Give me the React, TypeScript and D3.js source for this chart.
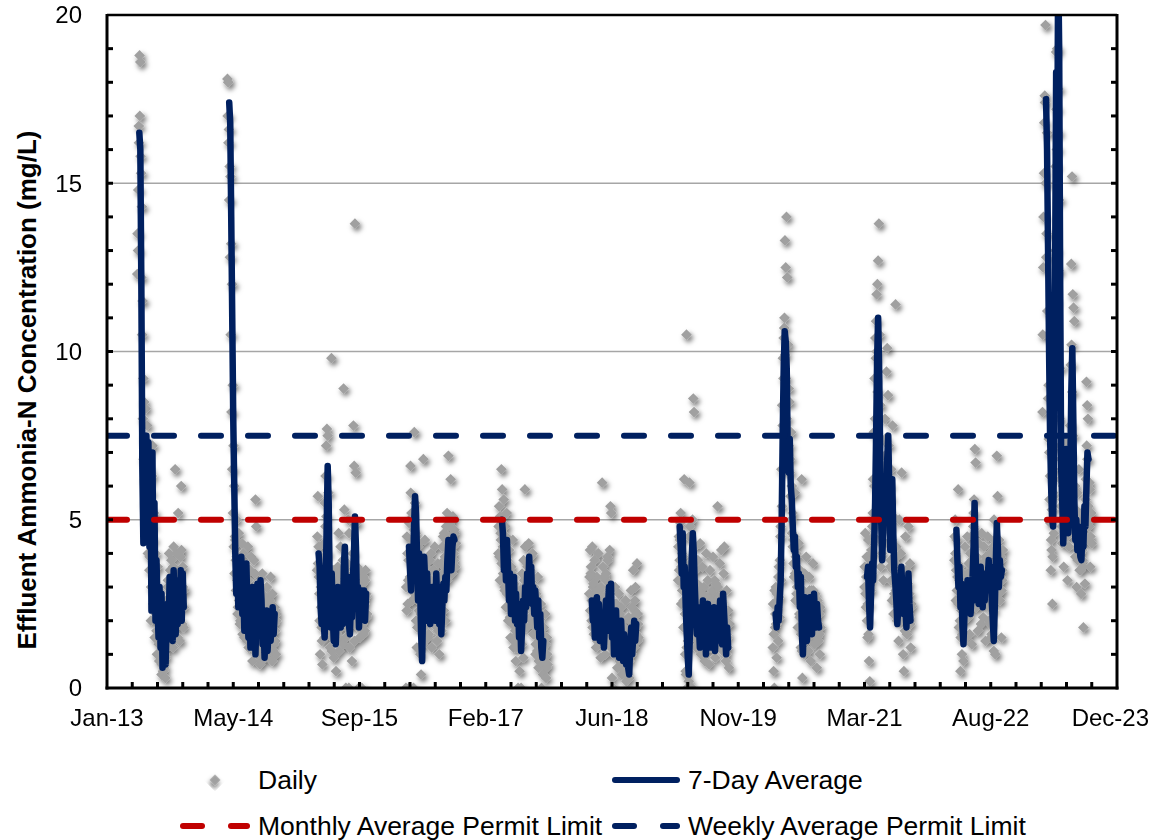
import React, { useEffect, useRef } from 'react';
import * as d3 from 'd3';

// Date axis: day offsets counted from 1 Jan 2013, major unit 500 days, minor 100 days
const axisStart = Date.UTC(2013, 0, 1);
const axisEndDay = 4000;
const xTickDays = [0, 500, 1000, 1500, 2000, 2500, 3000, 3500, 4000];
const xTickLabels = ['Jan-13', 'May-14', 'Sep-15', 'Feb-17', 'Jun-18', 'Nov-19', 'Mar-21', 'Aug-22', 'Dec-23'];
const yTickLabels = [0, 5, 10, 15, 20];

const monthlyLimit = 5;
const weeklyLimit = 7.5;

// first day of each season (offset from 1 Jan 2013); avg sampled every 4 days, daily every 3
// (two daily sets, one day apart)
const AVG_STEP = 4;
const DAILY_STEP = 3;
const avgStartDay = [128, 484, 838, 1196, 1564, 1920, 2268, 2648, 3010, 3364, 3719];
const dailyStartDay = [120, 477, 832, 1184, 1550, 1910, 2262, 2637, 3000, 3356, 3705];
const dailyBStartDay = [121, 478, 833, 1185, 1551, 1911, 2263, 2638, 3001, 3357, 3706];

const avg2013 = [16.5, 16.0, 12.0, 6.5, 4.3, 7.0, 4.5, 7.5, 5.0, 7.3, 4.2, 6.8, 2.3, 7.0, 3.0, 5.5, 2.0, 3.8, 2.5, 1.5, 3.0, 1.2, 2.8, 0.6, 1.0, 2.0, 0.7, 1.8, 2.5, 1.6, 3.3, 1.8, 2.4, 1.4, 3.5, 2.3, 1.6, 2.8, 1.9, 3.2, 2.2, 3.5, 2.0, 3.4, 2.4];
const avg2014 = [17.4, 16.8, 14.0, 11.0, 8.0, 6.0, 4.0, 2.8, 3.8, 2.4, 3.3, 2.5, 3.9, 2.2, 3.0, 1.7, 2.6, 3.7, 2.4, 1.5, 2.8, 1.2, 2.0, 3.0, 1.6, 2.4, 1.0, 2.1, 3.1, 2.5, 1.8, 3.2, 2.6, 1.3, 2.0, 0.9, 1.5, 2.3, 1.1, 1.8, 2.2, 1.4, 1.9, 2.4, 1.6, 2.2];
const avg2015 = [4.0, 3.6, 2.4, 1.9, 3.2, 2.0, 1.5, 3.0, 4.8, 6.6, 5.5, 3.0, 1.8, 3.4, 2.2, 1.4, 2.8, 1.3, 2.2, 3.0, 2.0, 2.9, 1.8, 2.6, 1.9, 3.6, 4.2, 3.0, 2.2, 3.3, 1.9, 1.6, 2.6, 2.1, 3.3, 4.0, 5.1, 4.2, 2.4, 3.0, 1.8, 2.7, 2.2, 2.9, 2.4, 2.9, 2.0, 2.8];
const avg2016 = [4.2, 3.5, 2.9, 4.0, 3.3, 4.8, 5.7, 5.2, 3.9, 2.6, 4.0, 3.0, 1.6, 0.8, 2.5, 3.9, 3.2, 2.0, 3.4, 2.2, 2.8, 1.9, 2.4, 3.0, 2.2, 2.7, 2.0, 3.4, 2.6, 3.0, 1.9, 2.5, 1.6, 2.4, 3.1, 2.6, 3.3, 2.9, 3.8, 4.4, 3.6, 4.0, 3.5, 4.2, 4.5, 4.4];
const avg2017 = [5.0, 4.6, 3.5, 4.2, 3.2, 4.4, 3.6, 2.6, 3.4, 2.2, 3.0, 2.5, 3.3, 2.0, 2.8, 1.9, 2.5, 1.5, 2.3, 1.1, 1.8, 2.6, 2.0, 3.0, 2.4, 3.4, 2.8, 3.9, 3.2, 3.6, 2.5, 3.0, 2.2, 2.9, 2.4, 1.8, 2.6, 1.5, 2.2, 1.2, 0.9, 1.4];
const avg2018 = [2.6, 2.0, 2.4, 1.5, 2.3, 2.7, 1.8, 2.5, 1.4, 2.1, 1.6, 2.2, 1.2, 1.9, 2.6, 1.7, 2.4, 3.0, 2.0, 3.1, 1.5, 2.2, 1.0, 1.6, 2.3, 1.2, 1.8, 0.9, 1.5, 2.0, 1.3, 0.8, 1.6, 1.1, 0.7, 1.4, 0.6, 0.4, 1.2, 1.8, 1.0, 1.5, 2.0, 1.4, 1.9];
const avg2019 = [4.8, 4.2, 3.4, 4.6, 3.0, 3.6, 2.4, 1.6, 0.9, 0.4, 1.5, 2.8, 3.9, 4.6, 4.0, 3.0, 2.2, 1.6, 2.4, 1.9, 1.2, 2.3, 1.7, 2.6, 1.4, 2.1, 1.0, 1.8, 2.5, 1.6, 2.3, 1.2, 2.0, 1.5, 2.4, 1.1, 1.9, 1.4, 2.2, 1.7, 2.6, 2.0, 1.3, 2.8, 2.2, 1.6, 1.0, 1.8, 1.2];
const avg2020 = [2.2, 1.8, 2.4, 2.0, 2.6, 3.2, 5.0, 7.5, 9.5, 10.6, 10.3, 9.5, 7.0, 6.4, 7.4, 6.0, 5.6, 4.8, 4.1, 4.5, 3.6, 3.9, 3.0, 3.4, 2.4, 3.3, 1.6, 1.0, 2.0, 2.7, 2.2, 1.4, 2.4, 1.8, 2.7, 2.0, 1.6, 2.5, 2.8, 2.2, 1.8, 2.5, 2.0, 1.8];
const avg2021 = [3.3, 3.6, 2.5, 1.8, 2.8, 3.7, 3.2, 4.2, 5.5, 7.5, 9.8, 11.0, 9.5, 7.0, 5.0, 3.8, 4.6, 5.8, 6.2, 5.0, 6.8, 7.5, 6.0, 4.1, 5.2, 6.2, 4.6, 3.5, 3.1, 2.6, 1.9, 2.4, 3.3, 2.8, 3.6, 2.9, 2.2, 3.0, 2.4, 1.8, 2.6, 3.4, 2.5, 2.0];
const avg2022 = [4.7, 3.8, 3.0, 3.6, 2.4, 3.1, 1.8, 1.3, 2.2, 3.0, 2.6, 3.2, 2.4, 2.9, 2.2, 2.8, 3.3, 4.2, 5.5, 4.0, 2.6, 3.2, 2.5, 3.0, 3.6, 2.8, 2.4, 3.1, 2.6, 3.4, 2.9, 3.3, 3.8, 3.2, 3.6, 2.6, 2.0, 1.4, 2.4, 3.7, 4.9, 4.2, 3.0, 3.8, 3.3, 3.5];
const avg2023 = [17.5, 16.0, 13.0, 10.0, 7.5, 6.0, 5.0, 4.8, 7.0, 12.5, 18.3, 15.0, 21.5, 19.0, 12.0, 6.5, 5.6, 4.3, 5.3, 6.2, 7.1, 5.5, 4.6, 5.2, 6.5, 8.8, 10.1, 8.0, 5.6, 4.4, 5.0, 4.1, 4.8, 4.3, 3.9, 3.8, 4.6, 4.2, 5.4, 4.8, 6.0, 7.0, 6.8];

const daily2013 = [12.3, 13.0, 16.7, 18.8, 18.6, 15.3, 14.3, 11.5, 9.2, 8.5, 6.2, 8.3, 5.0, 7.8, 4.0, 6.5, 3.5, 5.8, 2.0, 4.8, 7.2, 2.5, 5.2, 1.5, 4.0, 2.8, 1.0, 3.6, 2.2, 0.8, 2.6, 1.5, 0.4, 1.2, 0.5, 2.3, 1.0, 0.3, 2.0, 1.2, 3.0, 2.2, 4.0, 1.5, 2.8, 3.8, 2.0, 1.2, 4.2, 2.8, 6.5, 1.8, 3.5, 2.4, 5.2, 3.0, 1.4, 3.9, 6.0, 2.5, 3.6, 1.8, 2.9];
const daily2014 = [18.1, 18.0, 16.6, 15.5, 15.2, 13.2, 12.0, 9.0, 7.2, 6.0, 4.5, 3.8, 5.0, 3.2, 2.4, 4.6, 3.0, 2.0, 3.6, 2.8, 1.6, 4.0, 2.5, 3.4, 1.8, 3.2, 2.2, 4.2, 1.2, 2.6, 3.5, 1.4, 2.9, 0.8, 2.1, 3.8, 1.7, 5.6, 4.8, 1.0, 2.3, 3.1, 1.5, 0.7, 2.8, 1.9, 3.4, 1.2, 2.2, 0.9, 2.6, 1.6, 3.0, 1.1, 2.0, 2.7, 1.4, 3.3, 1.8, 0.8, 2.4, 1.3, 2.0, 1.7, 1.0, 2.2];
const daily2015 = [3.5, 5.7, 4.2, 2.8, 1.0, 3.0, 1.8, 0.7, 2.5, 3.9, 1.5, 4.8, 7.2, 7.7, 7.5, 5.8, 3.2, 1.2, 2.6, 9.8, 1.5, 3.5, 0.9, 2.0, 2.8, 0.5, 1.6, 3.4, 2.2, 1.1, 3.0, 4.2, 2.3, 1.4, 3.8, 8.9, 5.3, 2.6, 0.0, 3.1, 1.8, 2.5, 0.0, 1.2, 3.3, 2.0, 0.8, 4.0, 7.8, 6.6, 13.8, 6.4, 4.9, 3.6, 2.2, 0.0, 1.5, 3.0, 2.4, 0.0, 1.9, 3.3, 2.6, 1.7, 3.5, 2.8, 2.2];
const daily2016 = [0.0, 2.3, 4.0, 3.2, 0.0, 5.0, 6.6, 4.4, 2.6, 3.5, 0.0, 7.6, 5.5, 4.6, 3.0, 1.8, 4.2, 2.3, 3.4, 1.0, 0.4, 2.0, 1.3, 6.8, 3.6, 4.4, 2.5, 1.5, 3.8, 2.9, 1.6, 3.1, 2.2, 4.0, 1.2, 2.7, 3.5, 1.9, 4.2, 2.4, 3.0, 1.4, 3.7, 2.6, 1.0, 2.1, 3.3, 1.7, 2.8, 4.5, 2.3, 3.6, 2.0, 4.8, 3.2, 4.1, 6.9, 3.8, 5.0, 6.2, 4.3, 3.4, 5.1, 4.0, 4.7, 3.6, 4.3];
const daily2017 = [4.0, 5.4, 3.2, 4.6, 6.5, 5.9, 4.2, 5.6, 3.0, 4.8, 2.4, 5.2, 3.8, 2.0, 4.1, 3.0, 1.5, 3.6, 2.6, 4.4, 1.2, 3.1, 2.2, 0.8, 2.8, 1.6, 0.0, 2.4, 0.5, 1.9, 0.0, 1.3, 2.7, 0.9, 3.2, 5.9, 2.5, 1.8, 3.7, 2.9, 4.3, 3.4, 2.1, 3.9, 2.6, 4.0, 1.6, 3.0, 2.2, 1.0, 2.8, 1.7, 3.3, 0.6, 2.0, 1.3, 2.5, 0.0, 1.1, 0.4, 1.8, 0.9, 2.2, 0.3, 1.5, 0.7];
const daily2018 = [2.8, 4.1, 3.4, 2.0, 4.2, 3.0, 1.6, 3.8, 2.5, 1.2, 3.3, 2.2, 4.0, 1.8, 2.9, 0.9, 2.4, 6.1, 3.6, 1.5, 2.7, 1.0, 3.2, 2.0, 3.9, 1.4, 2.6, 4.1, 5.4, 5.2, 0.3, 2.2, 0.0, 1.7, 3.0, 1.1, 2.5, 0.6, 1.9, 2.8, 0.8, 1.5, 2.4, 0.4, 1.2, 2.0, 0.7, 1.6, 2.6, 0.2, 1.3, 0.9, 2.1, 0.3, 1.4, 2.9, 1.0, 1.8, 3.5, 1.2, 2.3, 3.0, 1.6, 3.7, 2.2, 1.5];
const daily2019 = [3.2, 4.5, 3.8, 4.9, 2.5, 4.0, 3.1, 1.8, 6.2, 2.2, 0.5, 10.5, 0.0, 1.4, 0.2, 6.1, 2.0, 3.3, 0.0, 5.0, 8.6, 8.2, 4.2, 3.5, 1.2, 2.7, 3.8, 1.6, 2.9, 4.3, 1.0, 2.5, 3.6, 1.9, 3.0, 0.8, 2.4, 4.0, 1.5, 3.2, 2.2, 0.7, 3.5, 2.0, 1.2, 2.8, 3.9, 1.7, 2.6, 0.9, 3.1, 2.3, 5.4, 1.4, 2.7, 3.7, 1.8, 4.1, 2.5, 1.1, 3.4, 4.2, 2.1, 0.8, 2.9, 1.5, 2.3, 0.6, 1.9];
const daily2020 = [1.2, 0.5, 0.0, 1.8, 3.0, 0.9, 2.6, 1.4, 3.6, 2.1, 4.5, 3.2, 5.4, 7.8, 9.2, 10.7, 13.3, 12.5, 14.0, 12.2, 10.2, 8.9, 8.5, 6.8, 7.6, 6.0, 5.2, 4.4, 3.3, 5.8, 2.6, 4.0, 3.0, 1.8, 4.3, 2.2, 3.5, 1.2, 6.2, 0.3, 2.4, 1.0, 3.4, 2.0, 3.9, 1.5, 2.8, 1.1, 3.3, 2.3, 0.8, 2.9, 1.7, 3.7, 2.4, 1.3, 2.8, 1.9, 0.6, 2.6, 1.4, 2.2, 1.0, 1.8];
const daily2021 = [3.0, 4.6, 2.4, 3.9, 1.5, 4.4, 0.8, 0.2, 2.9, 4.1, 3.4, 5.2, 4.5, 6.0, 8.0, 9.8, 11.7, 12.0, 12.7, 13.8, 10.5, 8.4, 6.3, 4.0, 5.5, 3.2, 6.6, 8.0, 4.8, 9.4, 10.1, 8.7, 7.2, 5.6, 3.6, 6.5, 4.4, 7.8, 5.1, 3.9, 2.7, 11.4, 4.2, 2.0, 3.1, 1.4, 5.0, 2.6, 4.0, 6.4, 3.3, 1.0, 0.5, 2.2, 4.5, 3.5, 1.6, 2.8, 4.8, 2.1, 3.7, 1.2, 2.5];
const daily2022 = [3.8, 5.0, 2.6, 4.4, 3.3, 5.9, 1.8, 3.6, 0.5, 2.5, 1.0, 3.4, 0.8, 2.0, 4.2, 1.5, 3.0, 4.5, 2.2, 3.7, 1.6, 4.0, 2.8, 1.3, 3.5, 4.8, 5.6, 7.1, 6.7, 2.4, 3.9, 1.7, 4.3, 2.7, 3.6, 1.9, 4.6, 3.2, 2.1, 4.2, 3.0, 1.4, 3.8, 2.5, 4.5, 3.4, 2.0, 4.0, 3.0, 1.6, 3.5, 2.3, 1.1, 2.8, 1.0, 4.3, 6.9, 5.7, 3.1, 4.4, 2.6, 3.9, 1.5, 3.2, 4.1];
const daily2023 = [8.2, 12.5, 15.3, 17.6, 19.7, 12.8, 16.5, 10.5, 9.0, 7.0, 6.3, 3.5, 4.1, 2.5, 5.8, 4.6, 7.2, 13.0, 18.9, 16.0, 20.5, 17.8, 14.5, 9.5, 6.8, 5.0, 4.3, 6.0, 3.6, 5.5, 7.3, 4.8, 6.4, 3.2, 5.0, 4.2, 6.9, 5.5, 12.6, 15.2, 11.7, 11.3, 10.9, 6.0, 4.7, 3.0, 5.8, 4.2, 6.5, 3.5, 4.9, 2.8, 5.2, 3.8, 1.8, 4.5, 3.1, 5.6, 9.1, 8.4, 8.0, 4.4, 6.1, 3.6, 5.0, 4.3];

const daily2013b = [13.5, 14.8, 16.2, 17.0, 15.8, 12.2, 10.5, 8.0, 6.8, 7.4, 5.5, 6.9, 4.6, 7.0, 5.2, 6.1, 3.9, 5.0, 3.0, 6.3, 4.4, 3.4, 2.6, 3.1, 2.2, 1.7, 3.0, 2.0, 1.3, 2.4, 1.0, 2.1, 0.7, 1.6, 1.1, 0.6, 1.5, 0.9, 2.6, 1.7, 3.2, 2.4, 1.3, 3.5, 2.0, 2.9, 1.6, 3.6, 2.5, 1.9, 3.1, 2.2, 4.0, 1.5, 2.7, 3.4, 2.0, 2.8, 4.1, 1.9, 3.0, 2.4];
const daily2014b = [17.0, 16.2, 14.5, 12.8, 10.5, 8.2, 6.5, 5.2, 4.2, 3.4, 4.4, 2.9, 3.9, 2.2, 3.3, 2.6, 1.9, 3.7, 2.7, 4.3, 2.0, 3.0, 1.5, 2.5, 3.6, 2.1, 1.4, 3.2, 2.4, 1.8, 2.9, 3.9, 2.3, 1.2, 2.7, 1.9, 3.4, 2.6, 1.1, 2.1, 2.9, 1.6, 2.4, 1.3, 2.0, 0.8, 1.7, 2.5, 1.2, 1.9, 2.7, 1.5, 1.0, 2.3, 1.8, 2.6, 1.3, 2.1, 1.6, 2.8, 1.1, 1.9, 2.4, 1.4, 2.0];
const daily2015b = [4.5, 3.7, 3.3, 2.0, 3.6, 2.4, 1.4, 3.0, 2.2, 4.3, 5.5, 6.3, 5.1, 4.0, 2.3, 3.3, 1.7, 2.8, 2.0, 1.1, 2.5, 3.1, 1.6, 2.4, 3.2, 1.9, 2.7, 3.6, 4.6, 3.4, 2.5, 1.8, 3.5, 2.9, 1.3, 2.2, 3.0, 2.6, 1.5, 2.8, 3.7, 5.0, 4.6, 3.3, 2.1, 2.9, 1.9, 3.2, 2.5, 1.4, 2.7, 3.4, 2.3, 3.0, 1.8, 2.6, 3.5, 2.0, 2.9, 2.4, 3.1, 1.6, 2.5, 3.2, 2.7, 2.1];
const daily2016b = [3.0, 4.5, 2.5, 3.8, 4.9, 3.3, 5.8, 5.2, 4.0, 3.1, 4.7, 2.8, 3.6, 2.0, 1.2, 3.3, 2.6, 4.3, 3.5, 2.2, 3.9, 2.5, 3.1, 1.8, 2.8, 3.6, 2.1, 3.3, 2.6, 1.5, 2.9, 3.8, 2.3, 3.2, 2.0, 2.7, 3.5, 1.9, 2.5, 3.1, 2.2, 2.9, 1.7, 2.4, 3.3, 2.6, 3.7, 2.9, 4.2, 3.4, 4.6, 3.9, 3.2, 4.4, 5.2, 3.7, 4.8, 4.0, 3.5, 4.5, 3.9, 5.0, 4.2, 3.8, 4.6];
const daily2017b = [4.8, 3.9, 5.1, 4.4, 3.7, 4.9, 3.4, 4.0, 2.9, 3.7, 4.5, 2.8, 3.5, 2.4, 3.2, 2.1, 2.7, 3.4, 1.9, 2.6, 1.4, 2.3, 1.7, 2.9, 1.2, 2.1, 1.5, 2.5, 1.8, 2.9, 2.2, 3.4, 2.6, 3.8, 3.0, 4.2, 3.3, 2.5, 3.6, 2.8, 3.2, 2.4, 3.5, 2.0, 2.7, 1.9, 2.5, 1.6, 2.3, 1.3, 2.0, 1.1, 1.7, 0.8, 1.4, 1.9, 1.0, 1.6, 0.7, 1.2, 1.5, 0.9, 1.3, 0.6, 1.0];
const daily2018b = [3.3, 2.3, 3.6, 2.6, 1.8, 3.1, 2.2, 2.8, 1.9, 2.5, 1.4, 2.9, 2.1, 1.6, 2.4, 3.0, 1.8, 2.7, 2.0, 3.3, 2.5, 1.9, 3.4, 2.6, 3.8, 2.2, 1.5, 2.6, 1.2, 2.0, 1.5, 2.4, 1.0, 1.8, 2.5, 1.3, 2.0, 1.6, 0.9, 1.7, 2.2, 1.1, 1.5, 0.6, 1.3, 1.8, 1.0, 0.7, 1.4, 0.5, 1.1, 1.7, 0.8, 1.3, 2.0, 1.4, 2.4, 1.6, 2.1, 1.2, 2.6, 1.8, 2.2, 1.4, 1.9];
const daily2019b = [4.2, 3.5, 4.4, 5.2, 3.6, 2.9, 3.9, 2.6, 1.8, 1.0, 0.4, 1.2, 2.4, 3.6, 4.5, 4.8, 3.7, 2.9, 2.3, 1.7, 2.9, 2.2, 1.5, 2.6, 1.9, 3.1, 2.4, 1.3, 2.2, 1.7, 2.8, 1.2, 2.0, 2.6, 1.6, 2.4, 1.1, 1.9, 2.7, 1.5, 2.3, 1.8, 2.6, 1.4, 2.1, 2.9, 1.9, 2.5, 3.2, 2.2, 1.6, 2.4, 3.0, 2.0, 1.3, 2.2, 1.7, 2.6, 1.2, 1.8, 2.3, 1.5, 2.0, 1.0, 1.6, 1.2];
const daily2020b = [2.5, 1.6, 2.9, 2.2, 1.9, 2.8, 2.4, 3.3, 2.7, 3.8, 4.8, 6.5, 8.4, 9.8, 10.4, 11.0, 9.9, 9.2, 8.0, 7.0, 6.5, 7.2, 6.4, 5.7, 5.0, 4.6, 4.2, 3.7, 4.5, 3.4, 3.9, 2.8, 3.5, 2.6, 3.2, 2.1, 2.9, 1.6, 1.1, 2.2, 2.9, 1.8, 2.5, 1.4, 2.7, 2.0, 2.4, 1.5, 2.9, 2.2, 1.7, 2.6, 2.0, 2.9, 2.3, 1.6, 2.5, 2.1, 1.5, 2.3, 1.9, 1.6, 2.4];
const daily2021b = [3.6, 2.8, 3.3, 2.0, 2.5, 1.6, 3.0, 3.8, 3.2, 4.0, 4.8, 6.2, 7.6, 9.2, 10.4, 10.9, 10.0, 8.8, 7.4, 5.8, 4.4, 3.6, 4.9, 5.6, 6.5, 5.2, 6.9, 7.4, 6.6, 5.3, 4.3, 5.7, 6.0, 4.8, 3.8, 3.2, 2.6, 3.5, 2.2, 2.8, 3.7, 2.9, 3.9, 3.1, 2.5, 3.3, 2.4, 2.0, 2.9, 3.5, 2.6, 3.0, 2.2, 1.7, 2.7, 3.4, 2.6, 3.1, 2.2, 2.8, 1.9, 2.4];
const daily2022b = [4.5, 4.0, 3.5, 2.9, 3.7, 2.5, 3.2, 2.0, 1.5, 2.3, 1.6, 2.8, 3.3, 2.5, 3.1, 2.3, 2.9, 3.4, 2.1, 2.7, 3.3, 2.4, 3.0, 3.8, 4.5, 5.2, 4.6, 3.5, 2.8, 3.4, 2.6, 3.1, 3.7, 2.9, 2.5, 3.3, 2.7, 3.6, 3.0, 3.4, 2.5, 3.9, 3.3, 3.7, 2.8, 3.5, 2.4, 1.9, 1.5, 2.5, 3.5, 4.2, 5.0, 4.4, 3.5, 3.0, 3.9, 3.4, 2.8, 3.6, 3.3, 3.8, 2.9, 3.5];
const daily2023b = [10.5, 14.0, 16.8, 17.4, 15.0, 13.5, 11.2, 8.6, 7.4, 5.6, 4.9, 4.4, 5.3, 3.9, 6.5, 9.0, 11.5, 15.5, 17.2, 19.0, 16.5, 12.4, 8.0, 6.2, 5.4, 4.8, 5.6, 6.6, 5.8, 7.0, 6.1, 5.2, 4.5, 5.0, 5.9, 6.6, 7.8, 9.6, 10.2, 8.8, 7.5, 5.3, 4.6, 3.9, 5.3, 4.6, 3.8, 4.3, 5.1, 4.0, 3.5, 4.7, 4.1, 3.6, 4.9, 4.4, 5.3, 6.2, 7.2, 6.8, 5.4, 4.8, 5.9, 4.5, 5.2];

const avgSeasons = [avg2013, avg2014, avg2015, avg2016, avg2017, avg2018, avg2019, avg2020, avg2021, avg2022, avg2023];
const dailySeasons = [daily2013, daily2014, daily2015, daily2016, daily2017, daily2018, daily2019, daily2020, daily2021, daily2022, daily2023];
const dailyBSeasons = [daily2013b, daily2014b, daily2015b, daily2016b, daily2017b, daily2018b, daily2019b, daily2020b, daily2021b, daily2022b, daily2023b];

const NAVY = '#002060';
const RED = '#c00000';
const GREY = '#a0a0a0';
const FONT = '"Liberation Sans", Arial, sans-serif';

const dayToDate = (d: number) => new Date(axisStart + d * 864e5);

const AmmoniaChart: React.FC = () => {
  const svgRef = useRef<SVGSVGElement>(null);

  useEffect(() => {
    if (!svgRef.current) return;

    const width = 1150;
    const height = 840;
    const left = 107, right = 1117, top = 15, bottom = 688;

    const svg = d3.select(svgRef.current);
    svg.selectAll('*').remove();
    svg.attr('width', width).attr('height', height);

    const defs = svg.append('defs');
    defs.append('clipPath').attr('id', 'plot-clip')
      .append('rect').attr('x', left).attr('y', top).attr('width', right - left).attr('height', bottom - top);
    defs.append('filter').attr('id', 'pt-shadow')
      .attr('x', '-50%').attr('y', '-50%').attr('width', '200%').attr('height', '200%')
      .append('feDropShadow')
      .attr('dx', 2).attr('dy', 3).attr('stdDeviation', 2.4)
      .attr('flood-color', '#000').attr('flood-opacity', 0.55);

    const x = d3.scaleUtc()
      .domain([dayToDate(0), dayToDate(axisEndDay)])
      .range([left, right]);
    const y = d3.scaleLinear().domain([0, 20]).range([bottom, top]);

    // gridlines
    svg.append('g')
      .selectAll('line')
      .data([5, 10, 15])
      .enter()
      .append('line')
      .attr('x1', left).attr('x2', right)
      .attr('y1', d => y(d)).attr('y2', d => y(d))
      .attr('stroke', '#a6a6a6').attr('stroke-width', 1.5);

    const plot = svg.append('g').attr('clip-path', 'url(#plot-clip)');

    // Daily points
    const diamond = d3.symbol().type(d3.symbolSquare).size(58);
    const toPoints = (seasons: number[][], starts: number[]) =>
      seasons.flatMap((vals, s) =>
        vals.map((v, i) => ({ date: dayToDate(starts[s] + i * DAILY_STEP), v })));
    const daily = toPoints(dailySeasons, dailyStartDay).concat(toPoints(dailyBSeasons, dailyBStartDay));
    plot.append('g')
      .attr('filter', 'url(#pt-shadow)')
      .selectAll('path')
      .data(daily)
      .enter()
      .append('path')
      .attr('d', diamond()!)
      .attr('transform', d => `translate(${x(d.date)},${y(d.v)}) rotate(45)`)
      .attr('fill', GREY);

    // 7-day average, one path per season
    const line = d3.line<{ date: Date; v: number }>()
      .x(d => x(d.date))
      .y(d => y(d.v));
    plot.append('g')
      .selectAll('path')
      .data(avgSeasons.map((vals, s) =>
        vals.map((v, i) => ({ date: dayToDate(avgStartDay[s] + i * AVG_STEP), v }))))
      .enter()
      .append('path')
      .attr('d', d => line(d))
      .attr('fill', 'none')
      .attr('stroke', NAVY)
      .attr('stroke-width', 6.5)
      .attr('stroke-linejoin', 'round')
      .attr('stroke-linecap', 'round');

    // permit limits
    const limits = [
      { v: monthlyLimit, color: RED },
      { v: weeklyLimit, color: NAVY }
    ];
    plot.append('g')
      .selectAll('line')
      .data(limits)
      .enter()
      .append('line')
      .attr('x1', left).attr('x2', right)
      .attr('y1', d => y(d.v)).attr('y2', d => y(d.v))
      .attr('stroke', d => d.color)
      .attr('stroke-width', 6)
      .attr('stroke-linecap', 'round')
      .attr('stroke-dasharray', '20 27');

    // axes frame
    const frame = svg.append('g').attr('stroke', '#000').attr('stroke-width', 3);
    frame.append('line').attr('x1', left).attr('x2', right).attr('y1', top).attr('y2', top).attr('stroke-width', 2.5);
    frame.append('line').attr('x1', left).attr('x2', left).attr('y1', top - 1).attr('y2', bottom + 1.5);
    frame.append('line').attr('x1', right).attr('x2', right).attr('y1', top - 1).attr('y2', bottom + 1.5);
    frame.append('line').attr('x1', left - 1.5).attr('x2', right + 1.5).attr('y1', bottom).attr('y2', bottom);

    const yMinor = d3.range(1, 20);
    frame.append('g').selectAll('line').data(yMinor).enter().append('line')
      .attr('x1', left).attr('x2', left + 6).attr('y1', d => y(d)).attr('y2', d => y(d));
    frame.append('g').selectAll('line').data(yMinor).enter().append('line')
      .attr('x1', right).attr('x2', right - 6).attr('y1', d => y(d)).attr('y2', d => y(d));
    const xMinor = d3.range(100, axisEndDay, 100);
    frame.append('g').selectAll('line').data(xMinor).enter().append('line')
      .attr('x1', d => x(dayToDate(d))).attr('x2', d => x(dayToDate(d)))
      .attr('y1', bottom).attr('y2', bottom - 6);

    // tick labels
    svg.append('g')
      .selectAll('text')
      .data(yTickLabels)
      .enter()
      .append('text')
      .attr('x', 82)
      .attr('y', d => y(d))
      .attr('dy', '0.35em')
      .attr('text-anchor', 'end')
      .attr('font-family', FONT)
      .attr('font-size', 24)
      .text(d => d);

    // last label is pulled in so it stays inside the chart, as Excel does
    svg.append('g')
      .selectAll('text')
      .data(xTickDays)
      .enter()
      .append('text')
      .attr('x', (d, i) => i === xTickDays.length - 1 ? 1149 : x(dayToDate(d)))
      .attr('y', 726)
      .attr('text-anchor', (d, i) => i === xTickDays.length - 1 ? 'end' : 'middle')
      .attr('font-family', FONT)
      .attr('font-size', 24)
      .text((d, i) => xTickLabels[i]);

    svg.append('text')
      .attr('transform', 'translate(27,390) rotate(-90)')
      .attr('text-anchor', 'middle')
      .attr('dominant-baseline', 'central')
      .attr('font-family', FONT)
      .attr('font-size', 26)
      .attr('font-weight', 'bold')
      .text('Effluent Ammonia-N Concentration (mg/L)');

    // legend
    const legend = svg.append('g').attr('font-family', FONT).attr('font-size', 26.5);
    legend.append('path')
      .attr('d', diamond()!)
      .attr('transform', 'translate(215,780) rotate(45)')
      .attr('fill', GREY)
      .attr('filter', 'url(#pt-shadow)');
    legend.append('line')
      .attr('x1', 615).attr('x2', 677).attr('y1', 780).attr('y2', 780)
      .attr('stroke', NAVY).attr('stroke-width', 6).attr('stroke-linecap', 'round');
    const dashSeg = (x1: number, x2: number, yy: number, color: string) =>
      legend.append('line')
        .attr('x1', x1).attr('x2', x2).attr('y1', yy).attr('y2', yy)
        .attr('stroke', color).attr('stroke-width', 6).attr('stroke-linecap', 'round');
    dashSeg(183, 202, 826, RED);
    dashSeg(231, 247, 826, RED);
    dashSeg(615, 634, 826, NAVY);
    dashSeg(663, 677, 826, NAVY);

    const legendText = [
      { x: 258, y: 780, t: 'Daily' },
      { x: 688, y: 780, t: '7-Day Average' },
      { x: 258, y: 826, t: 'Monthly Average Permit Limit' },
      { x: 688, y: 826, t: 'Weekly Average Permit Limit' }
    ];
    legend.selectAll('text')
      .data(legendText)
      .enter()
      .append('text')
      .attr('x', d => d.x)
      .attr('y', d => d.y)
      .attr('dy', '0.35em')
      .text(d => d.t);
  }, []);

  return (
    <div style={{ position: 'absolute', left: 0, top: 0, background: '#fff' }}>
      <svg ref={svgRef} style={{ display: 'block' }}></svg>
    </div>
  );
};

export default function App() {
  return <AmmoniaChart />;
}
